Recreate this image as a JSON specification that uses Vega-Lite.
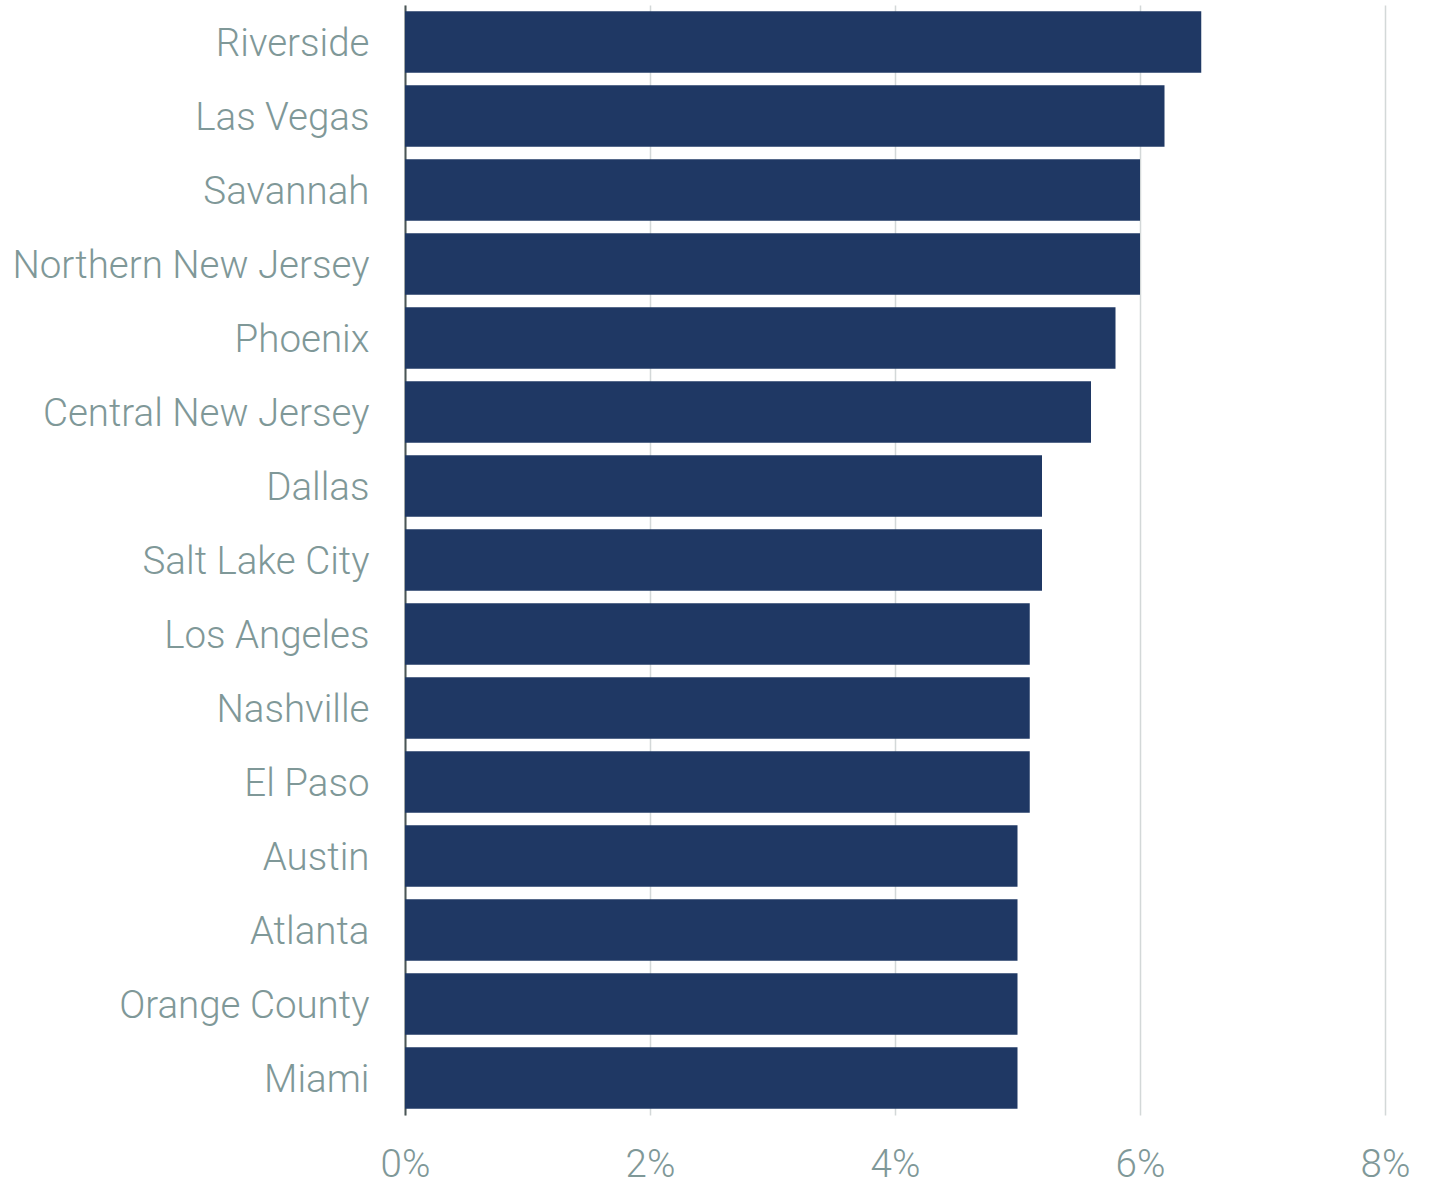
{
  "$schema": "https://vega.github.io/schema/vega-lite/v6.json",
  "autosize": "none",
  "width": 980,
  "height": 1110,
  "padding": {"left": 405, "top": 5, "right": 50, "bottom": 71},
  "background": "white",
  "config": {
    "view": {"stroke": null},
    "font": "Roboto"
  },
  "data": {
    "values": [
      {"market": "Riverside", "value": 6.5},
      {"market": "Las Vegas", "value": 6.2},
      {"market": "Savannah", "value": 6.0},
      {"market": "Northern New Jersey", "value": 6.0},
      {"market": "Phoenix", "value": 5.8},
      {"market": "Central New Jersey", "value": 5.6},
      {"market": "Dallas", "value": 5.2},
      {"market": "Salt Lake City", "value": 5.2},
      {"market": "Los Angeles", "value": 5.1},
      {"market": "Nashville", "value": 5.1},
      {"market": "El Paso", "value": 5.1},
      {"market": "Austin", "value": 5.0},
      {"market": "Atlanta", "value": 5.0},
      {"market": "Orange County", "value": 5.0},
      {"market": "Miami", "value": 5.0}
    ]
  },
  "mark": {"type": "bar", "color": "#1f3864"},
  "encoding": {
    "y": {
      "field": "market",
      "type": "nominal",
      "sort": null,
      "scale": {"paddingInner": 0.17, "paddingOuter": 0.085},
      "axis": {
        "title": null,
        "ticks": false,
        "domain": true,
        "domainColor": "#4a5656",
        "domainWidth": 2,
        "labelFontSize": 38.5,
        "labelFontWeight": 300,
        "labelColor": "#7f9898",
        "labelPadding": 36,
        "labelLimit": 400,
        "labelOffset": 2
      }
    },
    "x": {
      "field": "value",
      "type": "quantitative",
      "scale": {"domain": [0, 8], "nice": false},
      "axis": {
        "title": null,
        "values": [0, 2, 4, 6, 8],
        "labelExpr": "datum.value + '%'",
        "ticks": false,
        "domain": false,
        "grid": true,
        "gridColor": "#d3d8d8",
        "gridWidth": 1.5,
        "labelFontSize": 38.5,
        "labelFontWeight": 300,
        "labelColor": "#7f9898",
        "labelPadding": 31,
        "labelFlush": false
      }
    }
  }
}
